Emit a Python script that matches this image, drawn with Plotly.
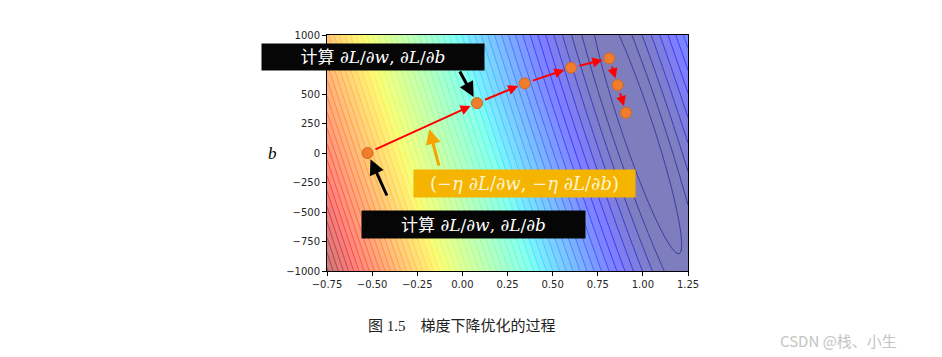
import numpy as np
import plotly.graph_objects as go

# ---- data -------------------------------------------------------------
w_path = [-0.525, 0.081, 0.345, 0.602, 0.814, 0.860, 0.906]
b_path = [0, 423, 590, 723, 802, 576, 341]

# loss landscape (elongated valley)
w_min, b_min = 0.961, 250
valley_slope = 4667
valley_stretch = 11900
loss_floor = 0.05
loss_power = 1.25
color_top = 2.6
color_slope, color_offset = 0.525, -0.055
level_start, level_step, level_end = 0.06, 0.0415, 2.6

x_ticks = [-0.75, -0.50, -0.25, 0.00, 0.25, 0.50, 0.75, 1.00, 1.25]
y_ticks = [-1000, -750, -500, -250, 0, 250, 500, 750, 1000]

box_text = "计算 <i>∂L</i>/<i>∂w</i>, <i>∂L</i>/<i>∂b</i>"
step_text = "(−<i>η</i> <i>∂L</i>/<i>∂w</i>, −<i>η</i> <i>∂L</i>/<i>∂b</i>)"
caption = "图 1.5　梯度下降优化的过程"
watermark = "CSDN @栈、小生"

# ---- surface ----------------------------------------------------------
w_grid = np.linspace(-0.75, 1.25, 301)
b_grid = np.linspace(-1000, 1000, 301)
W, B = np.meshgrid(w_grid, b_grid)
d = (W - w_min) + (B - b_min) / valley_slope
a = (B - b_min) / valley_stretch
Z = np.sqrt(loss_floor ** 2 + d ** 2 + a ** 2) ** loss_power

# matplotlib jet colormap
jet = {
    "r": [(0, 0), (0.35, 0), (0.66, 1), (0.89, 1), (1, 0.5)],
    "g": [(0, 0), (0.125, 0), (0.375, 1), (0.64, 1), (0.91, 0), (1, 0)],
    "b": [(0, 0.5), (0.11, 1), (0.34, 1), (0.65, 0), (1, 0)],
}


def chan(seg, t):
    xs = [s[0] for s in seg]
    ys = [s[1] for s in seg]
    return float(np.interp(t, xs, ys))


cs = []
for s in np.linspace(0, 1, 101):
    f = (s * color_top) ** (1 / loss_power)
    t = min(max(color_slope * f + color_offset, 0.0), 1.0)
    r, g, bb = (int(round(255 * chan(jet[c], t))) for c in "rgb")
    cs.append([float(s), f"rgb({r},{g},{bb})"])

fig = go.Figure()
fig.add_trace(go.Contour(
    x=w_grid, y=b_grid, z=Z, colorscale=cs, zmin=0, zmax=color_top, zauto=False,
    contours=dict(start=level_start, end=level_end, size=level_step,
                  coloring="fill", showlines=False),
    line=dict(width=0), opacity=0.5, showscale=False, hoverinfo="skip"))
fig.add_trace(go.Contour(
    x=w_grid, y=b_grid, z=Z, colorscale=cs, zmin=0, zmax=color_top, zauto=False,
    contours=dict(start=level_start, end=level_end, size=level_step,
                  coloring="lines"),
    line=dict(width=1), opacity=0.6, showscale=False, hoverinfo="skip"))

fig.add_trace(go.Scatter(
    x=w_path, y=b_path, mode="markers",
    marker=dict(size=11, color="#EF7D2D", line=dict(color="#D2691E", width=1)),
    showlegend=False, hoverinfo="skip"))

anns = []
for i in range(len(w_path) - 1):
    anns.append(dict(
        x=w_path[i + 1], y=b_path[i + 1], ax=w_path[i], ay=b_path[i],
        xref="x", yref="y", axref="x", ayref="y", text="", showarrow=True,
        arrowhead=2, arrowsize=1, arrowwidth=2, arrowcolor="#FF0000",
        standoff=7, startstandoff=7))

# page pixel -> paper helpers (plot area in page pixels)
L, R, T, Bm = 327, 688, 35, 271
OFF = 8  # browser body margin


def px(xp):
    return (xp - L) / (R - L)


def py(yp):
    return (Bm - yp) / (Bm - T)


# black arrows to points
anns.append(dict(x=w_path[0], y=b_path[0], xref="x", yref="y", ax=20, ay=44,
                 text="", showarrow=True, arrowhead=2, arrowsize=1,
                 arrowwidth=3, arrowcolor="black", standoff=7))
anns.append(dict(x=w_path[1], y=b_path[1], xref="x", yref="y", ax=-18, ay=-33,
                 text="", showarrow=True, arrowhead=2, arrowsize=1,
                 arrowwidth=3, arrowcolor="black", standoff=7))
# orange arrow
anns.append(dict(x=-0.183, y=202, xref="x", yref="y", ax=10, ay=38,
                 text="", showarrow=True, arrowhead=2, arrowsize=1,
                 arrowwidth=3, arrowcolor="#F5A300", standoff=0))

box_font = dict(family="DejaVu Serif, Noto Sans CJK SC", size=17, color="white")
anns.append(dict(x=px(373), y=py(56.5), xref="paper", yref="paper",
                 xanchor="center", yanchor="middle", text=box_text,
                 showarrow=False, bgcolor="#060606", width=222, height=26,
                 borderpad=0, font=box_font))
anns.append(dict(x=px(473.5), y=py(224.5), xref="paper", yref="paper",
                 xanchor="center", yanchor="middle", text=box_text,
                 showarrow=False, bgcolor="#060606", width=223, height=27,
                 borderpad=0, font=box_font))
anns.append(dict(x=px(524.5), y=py(183.5), xref="paper", yref="paper",
                 xanchor="center", yanchor="middle", text=step_text,
                 showarrow=False, bgcolor="#F4B400", width=221, height=27,
                 borderpad=0,
                 font=dict(family="DejaVu Serif, Noto Sans CJK SC", size=18,
                           color="#FFF4D0")))
# y label
anns.append(dict(x=px(272), y=py(153), xref="paper", yref="paper",
                 xanchor="center", yanchor="middle", text="<i>b</i>",
                 showarrow=False,
                 font=dict(family="Liberation Serif", size=17, color="black")))
# caption and watermark
anns.append(dict(x=px(366), y=py(326), xref="paper", yref="paper",
                 xanchor="left", yanchor="middle", text=caption,
                 showarrow=False,
                 font=dict(family="Liberation Serif, Noto Sans CJK SC", size=15,
                           color="#222222")))
anns.append(dict(x=px(899), y=py(340), xref="paper", yref="paper",
                 xanchor="right", yanchor="middle", text=watermark,
                 showarrow=False,
                 font=dict(family="Noto Sans CJK SC", size=15, color="#C4C4C4")))

axis_common = dict(showgrid=False, zeroline=False, showline=True, mirror=True,
                   linecolor="black", linewidth=1, ticks="outside", ticklen=4,
                   tickcolor="black",
                   tickfont=dict(family="DejaVu Sans", size=10, color="#262626"))

fig.update_layout(
    width=942 - OFF, height=357 - OFF,
    margin=dict(l=L - OFF, r=942 - R, t=T - OFF, b=357 - Bm),
    paper_bgcolor="white", plot_bgcolor="white",
    showlegend=False,
    xaxis=dict(range=[-0.75, 1.25], tickvals=x_ticks,
               ticktext=[f"{v:.2f}".replace("-", "−") for v in x_ticks],
               **axis_common),
    yaxis=dict(range=[-1000, 1000], tickvals=y_ticks,
               ticktext=[str(v).replace("-", "−") for v in y_ticks],
               **axis_common),
    annotations=anns,
)

fig.write_html("out.html")
